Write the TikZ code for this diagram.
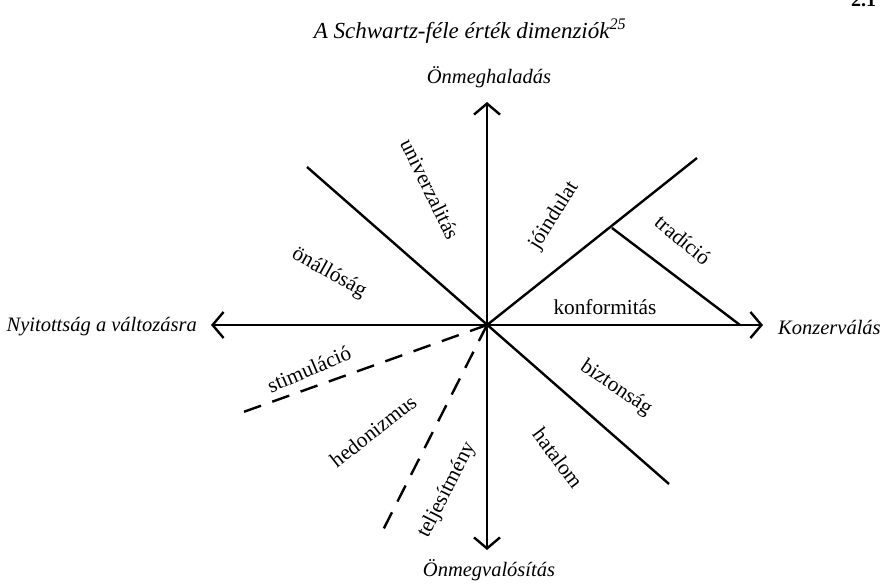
\documentclass[tikz,border=0pt]{standalone}
\usepackage{fontspec}
\setmainfont{Liberation Serif}
\usetikzlibrary{arrows.meta}
\begin{document}
\begin{tikzpicture}[x=1pt,y=-1pt,
  axis/.style={line width=2.4pt,-{Straight Barb[length=11pt,width=26pt,line width=2.4pt]}},
  seg/.style={line width=2.4pt},
  dseg/.style={line width=2.4pt,dash pattern=on 18pt off 12pt},
  lab/.style={font=\fontsize{21.3}{23}\selectfont,inner sep=0pt},
  ax/.style={font=\fontsize{20.5}{22}\selectfont\itshape,inner sep=0pt}]
\useasboundingbox (0,0) rectangle (885,585);
\node[anchor=base west,font=\bfseries\fontsize{20}{22}\selectfont,inner sep=0pt] (pg) at (851,7) {2.1};
\node[ax,font=\fontsize{23}{25}\selectfont\itshape] (title) at (470,31) {A Schwartz-féle érték dimenziók\textsuperscript{25}};
\coordinate (c) at (487,325);
\coordinate (tp) at (487,102);
\coordinate (bt) at (487,550);
\coordinate (lf) at (211,325);
\coordinate (rt) at (763,325);
\coordinate (ul) at (307,167);
\coordinate (lr) at (669,484);
\coordinate (ur) at (697,158);
\coordinate (tj) at (612,228);
\coordinate (te) at (740,325);
\coordinate (sd) at (235,415);
\coordinate (td) at (381,534);
\draw[axis] (c) -- (tp);
\draw[axis] (c) -- (bt);
\draw[axis] (c) -- (lf);
\draw[axis] (c) -- (rt);
\draw[seg] (ul) -- (lr);
\draw[seg] (c) -- (ur);
\draw[seg] (tj) -- (te);
\draw[dseg] (c) -- (sd);
\draw[dseg] (c) -- (td);
\node[ax] (ta) at (489,77) {Önmeghaladás};
\node[ax] (ba) at (489,570) {Önmegvalósítás};
\node[ax,anchor=east] (la) at (197,327) {Nyitottság a változásra};
\node[ax,anchor=west] (ra) at (778,327) {Konzerválás};
\node[lab,rotate=-64] (univ) at (430,189) {univerzalitás};
\node[lab,rotate=58] (join) at (554,216) {jóindulat};
\node[lab,rotate=-29] (onal) at (329,273) {önállóság};
\node[lab] (konf) at (605,307) {konformitás};
\node[lab,rotate=-40] (trad) at (683,240) {tradíció};
\node[lab,rotate=-34] (bizt) at (616,388) {biztonság};
\node[lab,rotate=-53] (hata) at (558,458) {hatalom};
\node[lab,rotate=23] (stim) at (309,369) {stimuláció};
\node[lab,rotate=38] (hedo) at (373,431) {hedonizmus};
\node[lab,rotate=63] (telj) at (447,490) {teljesítmény};
\end{tikzpicture}
\end{document}
